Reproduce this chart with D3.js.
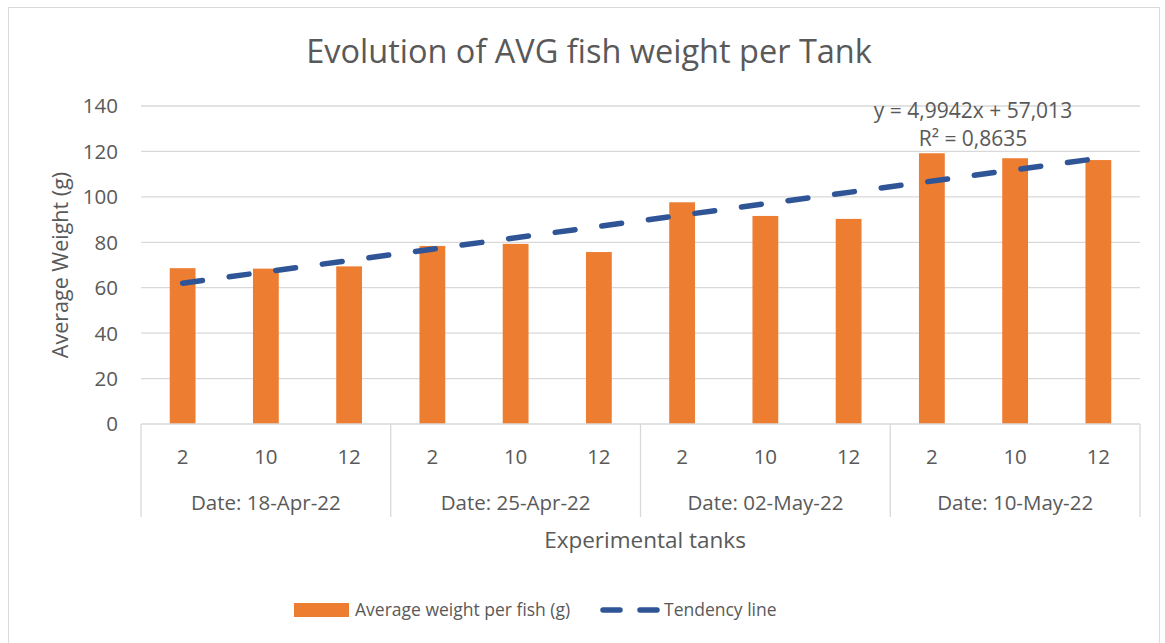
<!DOCTYPE html>
<html>
<head>
<meta charset="utf-8">
<script src="https://cdn.jsdelivr.net/npm/d3@7"></script>
<style>
  body { margin: 0; background: #fff; }
  text { font-family: "Open Sans", "Noto Sans", sans-serif; fill: #595959; }
</style>
</head>
<body>
<script>
// chart data
var dates = ["Date: 18-Apr-22", "Date: 25-Apr-22", "Date: 02-May-22", "Date: 10-May-22"];
var tanks = ["2", "10", "12"];
var weights = [68.6, 68.4, 69.4, 78.4, 79.3, 75.7, 97.6, 91.6, 90.3, 119.2, 117.0, 116.2];
var trendSlope = 4.9942, trendIntercept = 57.013;
var yTicks = [0, 20, 40, 60, 80, 100, 120, 140];

var width = 1165, height = 643;
var margin = {left: 141, right: 25, top: 106, bottom: 219};

var svg = d3.select("body").append("svg")
    .attr("width", width)
    .attr("height", height);

// outer frame
svg.append("rect")
    .attr("x", 8.5).attr("y", 7.5)
    .attr("width", 1151).attr("height", 640)
    .attr("fill", "none").attr("stroke", "#d9d9d9");

// one entry per bar
var cats = [];
dates.forEach(function(d, i) {
    tanks.forEach(function(t, j) {
        cats.push({date: d, tank: t, idx: i * tanks.length + j, w: weights[i * tanks.length + j]});
    });
});

var x = d3.scaleBand()
    .domain(cats.map(function(c) { return c.idx; }))
    .range([margin.left, width - margin.right])
    .paddingInner(0.69).paddingOuter(0.345);

var y = d3.scaleLinear()
    .domain([0, 140])
    .range([height - margin.bottom, margin.top]);

var step = x.step();
var x0 = margin.left;

// gridlines
svg.append("g").selectAll("line")
    .data(yTicks.slice(1))
    .enter().append("line")
    .attr("x1", margin.left).attr("x2", width - margin.right)
    .attr("y1", function(d) { return y(d); })
    .attr("y2", function(d) { return y(d); })
    .attr("stroke", "#d9d9d9").attr("stroke-width", 1.3);

// y labels
svg.append("g").selectAll("text")
    .data(yTicks)
    .enter().append("text")
    .attr("x", 118)
    .attr("y", function(d) { return y(d); })
    .attr("dy", "0.36em")
    .attr("text-anchor", "end")
    .attr("font-size", 20.5)
    .text(function(d) { return d; });

// bars
svg.append("g").selectAll("rect")
    .data(cats)
    .enter().append("rect")
    .attr("x", function(c) { return x(c.idx); })
    .attr("width", x.bandwidth())
    .attr("y", function(c) { return y(c.w); })
    .attr("height", function(c) { return y(0) - y(c.w); })
    .attr("fill", "#ed7d31");

// x axis line and group separators
svg.append("line")
    .attr("x1", margin.left).attr("x2", width - margin.right)
    .attr("y1", y(0)).attr("y2", y(0))
    .attr("stroke", "#d9d9d9").attr("stroke-width", 1.3);

svg.append("g").selectAll("line")
    .data(d3.range(dates.length + 1))
    .enter().append("line")
    .attr("x1", function(i) { return x0 + i * step * tanks.length; })
    .attr("x2", function(i) { return x0 + i * step * tanks.length; })
    .attr("y1", y(0)).attr("y2", 517)
    .attr("stroke", "#d9d9d9").attr("stroke-width", 1.3);

// tank labels
svg.append("g").selectAll("text")
    .data(cats)
    .enter().append("text")
    .attr("x", function(c) { return x(c.idx) + x.bandwidth() / 2; })
    .attr("y", 457)
    .attr("dy", "0.36em")
    .attr("text-anchor", "middle")
    .attr("font-size", 20.5)
    .text(function(c) { return c.tank; });

// date labels
svg.append("g").selectAll("text")
    .data(dates)
    .enter().append("text")
    .attr("x", function(d, i) { return x0 + (i + 0.5) * step * tanks.length; })
    .attr("y", 503)
    .attr("dy", "0.36em")
    .attr("text-anchor", "middle")
    .attr("font-size", 20.5)
    .text(function(d) { return d; });

// trend line
var line = d3.line()
    .x(function(c) { return x(c.idx) + x.bandwidth() / 2; })
    .y(function(c) { return y(trendSlope * (c.idx + 1) + trendIntercept); });

svg.append("path")
    .datum([cats[0], cats[cats.length - 1]])
    .attr("d", line)
    .attr("fill", "none")
    .attr("stroke", "#2f5597")
    .attr("stroke-width", 5.5)
    .attr("stroke-linecap", "round")
    .attr("stroke-dasharray", "20,27");

// equation label
svg.append("text")
    .attr("x", 973).attr("y", 110)
    .attr("dy", "0.36em")
    .attr("text-anchor", "middle")
    .attr("font-size", 21)
    .text("y = 4,9942x + 57,013");
svg.append("text")
    .attr("x", 973).attr("y", 138)
    .attr("dy", "0.36em")
    .attr("text-anchor", "middle")
    .attr("font-size", 21)
    .text("R² = 0,8635");

// titles
svg.append("text")
    .attr("x", 589).attr("y", 51)
    .attr("dy", "0.36em")
    .attr("text-anchor", "middle")
    .attr("font-size", 32.5)
    .text("Evolution of AVG fish weight per Tank");

svg.append("text")
    .attr("transform", "translate(60,265) rotate(-90)")
    .attr("dy", "0.36em")
    .attr("text-anchor", "middle")
    .attr("font-size", 21.5)
    .text("Average Weight (g)");

svg.append("text")
    .attr("x", 645).attr("y", 540)
    .attr("dy", "0.36em")
    .attr("text-anchor", "middle")
    .attr("font-size", 22.5)
    .text("Experimental tanks");

// legend
var legend = svg.append("g");
legend.append("rect")
    .attr("x", 294).attr("y", 603)
    .attr("width", 55).attr("height", 14)
    .attr("fill", "#ed7d31");
legend.append("text")
    .attr("x", 355).attr("y", 610)
    .attr("dy", "0.36em")
    .attr("font-size", 17.5)
    .text("Average weight per fish (g)");
legend.append("line")
    .attr("x1", 603).attr("x2", 657)
    .attr("y1", 610).attr("y2", 610)
    .attr("stroke", "#2f5597")
    .attr("stroke-width", 5.5)
    .attr("stroke-linecap", "round")
    .attr("stroke-dasharray", "17,20");
legend.append("text")
    .attr("x", 664).attr("y", 610)
    .attr("dy", "0.36em")
    .attr("font-size", 17.5)
    .text("Tendency line");
</script>
</body>
</html>
